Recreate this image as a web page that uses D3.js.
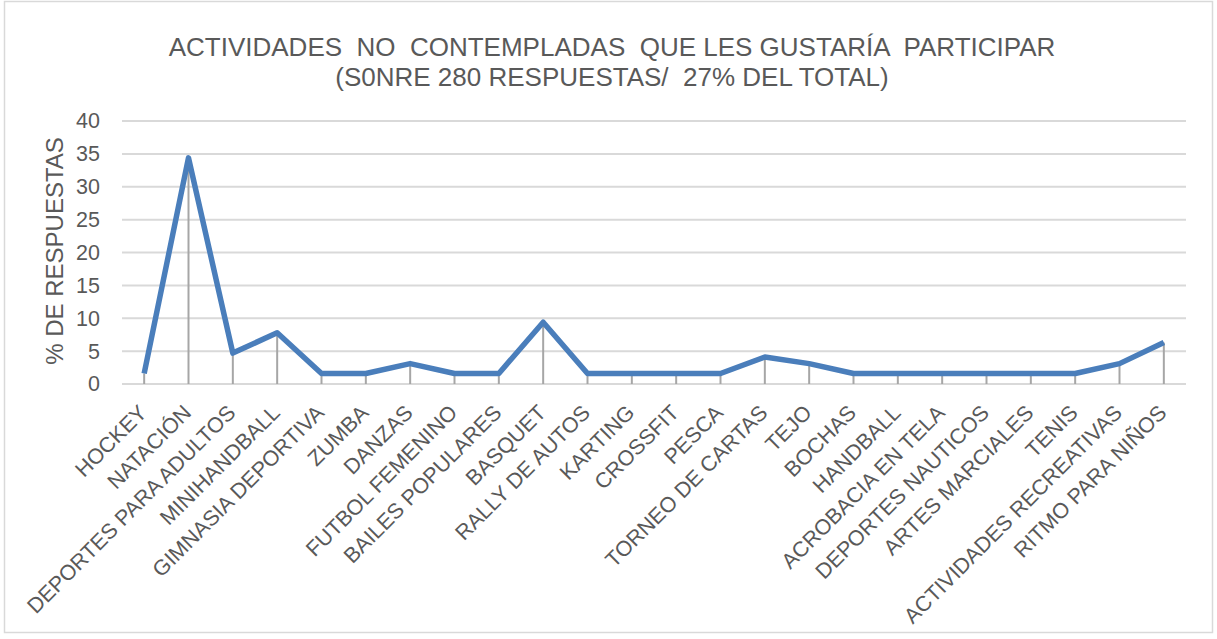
<!DOCTYPE html>
<html>
<head>
<meta charset="utf-8">
<script src="https://cdn.jsdelivr.net/npm/d3@7"></script>
<style>
  body { margin: 0; background: #fff; }
  text { font-family: "Liberation Sans", Arial, sans-serif; fill: #595959; }
</style>
</head>
<body>
<div id="chart"></div>
<script>
// Chart data
var categories = ["HOCKEY", "NATACIÓN", "DEPORTES PARA ADULTOS", "MINIHANDBALL",
  "GIMNASIA DEPORTIVA", "ZUMBA", "DANZAS", "FUTBOL FEMENINO", "BAILES POPULARES",
  "BASQUET", "RALLY DE AUTOS", "KARTING", "CROSSFIT", "PESCA", "TORNEO DE CARTAS",
  "TEJO", "BOCHAS", "HANDBALL", "ACROBACIA EN TELA", "DEPORTES NAUTICOS",
  "ARTES MARCIALES", "TENIS", "ACTIVIDADES RECREATIVAS", "RITMO PARA NIÑOS"];
var values = [1.6, 34.4, 4.7, 7.8, 1.6, 1.6, 3.1, 1.6, 1.6, 9.4, 1.6, 1.6, 1.6, 1.6,
  4.1, 3.1, 1.6, 1.6, 1.6, 1.6, 1.6, 1.6, 3.1, 6.3];
var yTicks = [0, 5, 10, 15, 20, 25, 30, 35, 40];
var titleLines = ["ACTIVIDADES  NO  CONTEMPLADAS  QUE LES GUSTARÍA  PARTICIPAR",
  "(S0NRE 280 RESPUESTAS/  27% DEL TOTAL)"];

var svgWidth = 1217;
var svgHeight = 639;

var margin = { top: 121, right: 31, bottom: 255, left: 122 };
var chartWidth = svgWidth - margin.left - margin.right;
var chartHeight = svgHeight - margin.top - margin.bottom;

var svg = d3.select("#chart")
  .append("svg")
  .attr("width", svgWidth)
  .attr("height", svgHeight);

// outer frame
svg.append("rect")
  .attr("x", 4.5)
  .attr("y", 1.5)
  .attr("width", 1208)
  .attr("height", 631)
  .attr("fill", "none")
  .attr("stroke", "#d9d9d9")
  .attr("stroke-width", 1.5);

var g = svg.append("g")
  .attr("transform", `translate(${margin.left},${margin.top})`);

var x = d3.scalePoint()
  .domain(categories)
  .range([0, chartWidth])
  .padding(0.5);

var y = d3.scaleLinear()
  .domain([0, 40])
  .range([chartHeight, 0]);

// gridlines
g.append("g")
  .selectAll("line")
  .data(yTicks)
  .enter()
  .append("line")
  .attr("x1", 0)
  .attr("x2", chartWidth)
  .attr("y1", d => y(d))
  .attr("y2", d => y(d))
  .attr("stroke", "#d9d9d9")
  .attr("stroke-width", 2);

// y axis labels
var yAxis = g.append("g")
  .call(d3.axisLeft(y).tickValues(yTicks).tickSize(0).tickPadding(22));
yAxis.select(".domain").remove();
yAxis.selectAll("text")
  .style("font-size", "21.5px")
  .style("font-family", "Liberation Sans, Arial, sans-serif")
  .attr("fill", "#595959");

// drop lines
g.append("g")
  .selectAll("line")
  .data(values)
  .enter()
  .append("line")
  .attr("x1", (d, i) => x(categories[i]))
  .attr("x2", (d, i) => x(categories[i]))
  .attr("y1", d => y(d))
  .attr("y2", y(0))
  .attr("stroke", "#a6a6a6")
  .attr("stroke-width", 2);

// the line
var line = d3.line()
  .x((d, i) => x(categories[i]))
  .y(d => y(d));

g.append("path")
  .datum(values)
  .attr("d", line)
  .attr("fill", "none")
  .attr("stroke", "#4a7ebb")
  .attr("stroke-width", 5.5)
  .attr("stroke-linejoin", "round");

// x labels, rotated
g.append("g")
  .selectAll("text")
  .data(categories)
  .enter()
  .append("text")
  .attr("transform", d => `translate(${x(d) + 4},${chartHeight + 30}) rotate(-45)`)
  .attr("text-anchor", "end")
  .style("font-size", "21.5px")
  .text(d => d);

// y axis title
svg.append("text")
  .attr("transform", "rotate(-90)")
  .attr("x", -251)
  .attr("y", 63)
  .attr("text-anchor", "middle")
  .style("font-size", "24px")
  .text("% DE RESPUESTAS");

// title
svg.append("g")
  .selectAll("text")
  .data(titleLines)
  .enter()
  .append("text")
  .attr("x", 612)
  .attr("y", (d, i) => 56 + i * 30)
  .attr("text-anchor", "middle")
  .style("font-size", "26px")
  .style("white-space", "pre")
  .text(d => d);
</script>
</body>
</html>
